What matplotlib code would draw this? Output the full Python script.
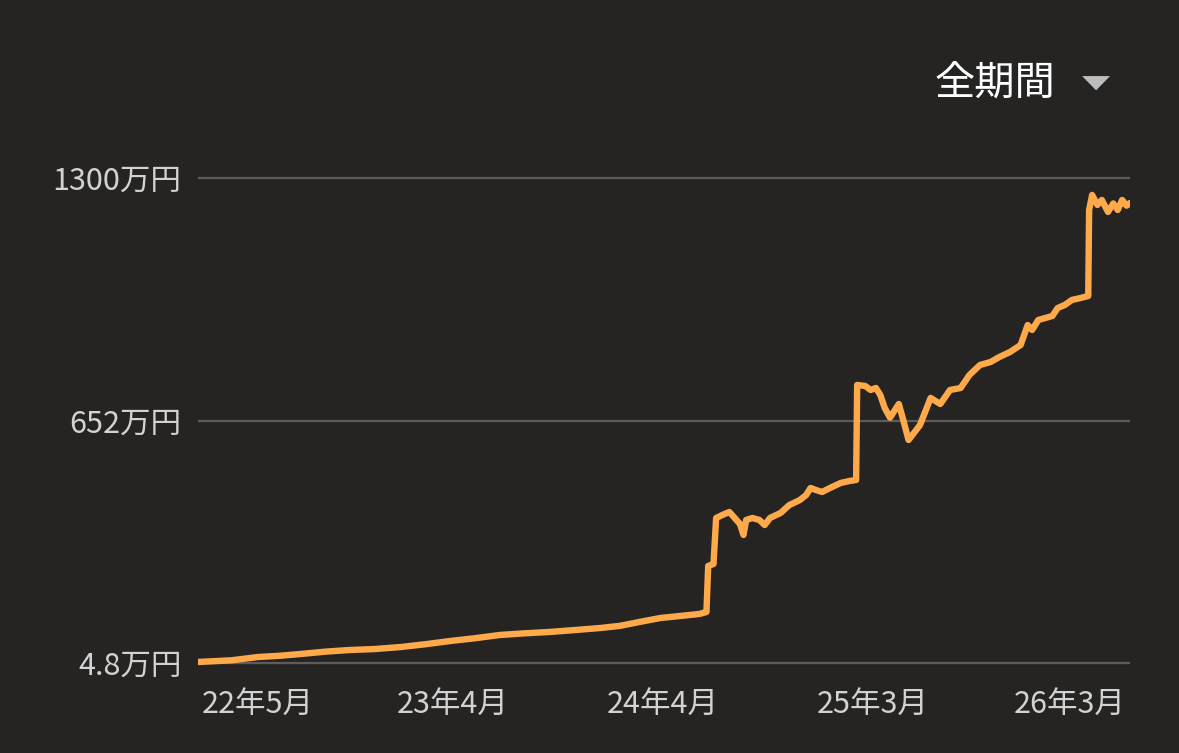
import matplotlib
matplotlib.use("Agg")
import matplotlib.pyplot as plt
from matplotlib.patches import Polygon

plt.rcParams['font.family'] = ['Noto Sans CJK JP', 'DejaVu Sans']

# months counted from 2022-04 (0 = 22年4月)
months = [-2.4, -0.5, 1.0, 2.2, 3.4, 4.8, 6.2, 7.6, 9.1, 10.5, 11.9, 13.3, 14.7,
          16.1, 17.5, 19.0, 20.4, 21.5, 22.6, 23.8, 24.9,
          26.0, 26.4, 26.5, 26.8, 26.95, 27.3, 27.7, 28.1, 28.3, 28.5, 28.65,
          29.0, 29.4, 29.7, 30.0, 30.6, 31.1, 31.7, 32.05, 32.3, 32.6, 32.95,
          33.4, 34.0, 34.5, 34.88, 34.94, 35.4, 35.7, 36.0, 36.25, 36.5, 36.8,
          37.3, 37.55, 37.85, 38.2, 38.5, 39.1, 39.65, 40.2, 40.8, 41.3, 41.9,
          42.5, 43.0, 43.6, 44.2, 44.6, 44.85, 45.2, 45.6, 46.0, 46.3, 46.7,
          47.1, 47.6, 48.03, 48.08, 48.25, 48.55, 48.8, 49.15, 49.45, 49.7,
          49.95, 50.2, 50.4]
assets = [7.5, 12.0, 20.8, 24.0, 28.8, 35.0, 39.5, 42.0, 47.5, 55.0, 63.6, 71.0, 79.6,
          84.0, 87.6, 93.0, 98.3, 104.0, 114.3, 125.0, 130.3,
          135.7, 141.0, 263.9, 269.2, 392.0, 400.0, 408.0, 386.7, 376.0, 346.6, 386.7,
          392.0, 386.7, 373.3, 392.0, 405.4, 426.7, 440.1, 453.4, 472.1, 466.8, 461.5,
          472.1, 485.5, 490.8, 493.5, 747.2, 744.5, 733.8, 739.2, 720.5, 685.8, 660.0,
          696.4, 653.7, 600.3, 621.7, 640.4, 712.5, 696.4, 733.8, 739.2, 773.9, 800.6,
          808.6, 822.0, 835.3, 854.0, 907.4, 894.1, 920.8, 926.1, 931.5, 952.8, 960.8,
          974.2, 979.5, 984.9, 1214.5, 1254.6, 1227.9, 1241.2, 1209.2, 1232.0, 1214.5,
          1241.2, 1226.0, 1233.3]

y_ticks = [4.8, 652, 1300]
y_labels = ['4.8万円', '652万円', '1300万円']
x_ticks = [1.0, 12.0, 23.9, 35.8, 47.0]
x_labels = ['22年5月', '23年4月', '24年4月', '25年3月', '26年3月']

bg = '#252423'
fig = plt.figure(figsize=(11.79, 7.53), dpi=100, facecolor=bg)
ax = fig.add_axes([0.168, 0.1129, 0.7905, 0.6614], facecolor=bg)

ax.plot(months, assets, color='#FFAA4A', linewidth=4.6, solid_joinstyle='round',
        solid_capstyle='round', zorder=3)

ax.set_xlim(-2.4, 50.4)
ax.set_ylim(-8.55, 1321.4)
ax.set_yticks(y_ticks)
ax.set_yticklabels(y_labels)
ax.set_xticks(x_ticks)
ax.set_xticklabels(x_labels)
ax.grid(axis='y', color='#5c5c5c', linewidth=1.6)
ax.tick_params(length=0, labelsize=22, colors='#d2d2d2', pad=12)
ax.tick_params(axis='x', pad=15)
for s in ax.spines.values():
    s.set_visible(False)

fig.text(0.895, 0.888, '全期間', color='white', fontsize=29, ha='right', va='center')
tri = Polygon([[0.9178, 0.899], [0.9415, 0.899], [0.9297, 0.880]],
              closed=True, transform=fig.transFigure, facecolor='#bdbdbd',
              edgecolor='none')
fig.patches.append(tri)

fig.savefig('out.png', dpi=100, facecolor=bg)
